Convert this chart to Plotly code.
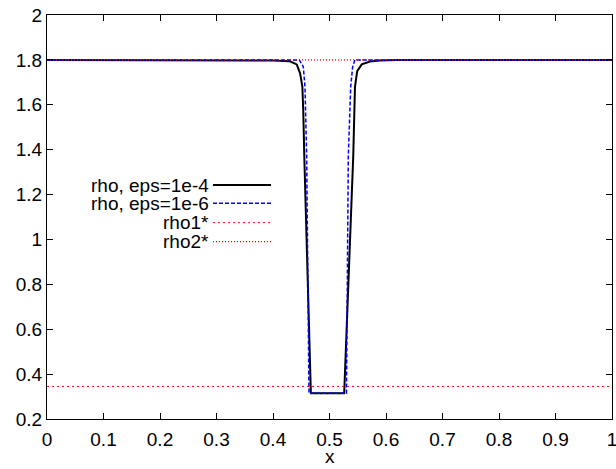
import plotly.graph_objects as go

# eps = 1e-4 profile (black solid)
x_e4 = [0.0, 0.30, 0.35, 0.38, 0.40, 0.43, 0.442, 0.448, 0.452, 0.4536, 0.4554, 0.467,
        0.526, 0.542, 0.5434, 0.5451, 0.549, 0.557, 0.5717, 0.589, 0.62, 0.66, 1.0]
y_e4 = [1.8, 1.8, 1.799, 1.798, 1.797, 1.794, 1.78, 1.74, 1.68, 1.57, 1.37, 0.315,
        0.315, 1.37, 1.57, 1.68, 1.75, 1.78, 1.793, 1.797, 1.799, 1.8, 1.8]

# eps = 1e-6 profile (blue dashed)
x_e6 = [0.0, 0.4466, 0.4536, 0.4566, 0.4596, 0.4637, 0.530, 0.5333, 0.5375, 0.541, 0.545, 1.0]
y_e6 = [1.8, 1.8, 1.77, 1.68, 1.37, 0.315, 0.315, 1.37, 1.68, 1.77, 1.8, 1.8]

# reference densities
x_ref = [0.0, 1.0]
rho1_star = [0.345, 0.345]
rho2_star = [1.8, 1.8]

x_ticks = [0, 0.1, 0.2, 0.3, 0.4, 0.5, 0.6, 0.7, 0.8, 0.9, 1]
x_ticktext = ["0", "0.1", "0.2", "0.3", "0.4", "0.5", "0.6", "0.7", "0.8", "0.9", "1"]
y_ticks = [0.2, 0.4, 0.6, 0.8, 1, 1.2, 1.4, 1.6, 1.8, 2]
y_ticktext = ["0.2", "0.4", "0.6", "0.8", "1", "1.2", "1.4", "1.6", "1.8", "2"]

legend_labels = ["rho, eps=1e-4", "rho, eps=1e-6", "rho1*", "rho2*"]
legend_styles = [("black", "solid", 2), ("#0000ff", "4px,2px", 1.5),
                 ("#ff0000", "2px,3px", 1), ("#ff0000", "1px,2px", 1.3)]

FONT = "Liberation Sans, Arial, sans-serif"
FS = 19

fig = go.Figure()
fig.add_trace(go.Scatter(x=x_e4, y=y_e4, mode="lines", name=legend_labels[0],
                         line=dict(color="black", width=2)))
fig.add_trace(go.Scatter(x=x_e6, y=y_e6, mode="lines", name=legend_labels[1],
                         line=dict(color="#0000ff", width=1.5, dash="4px,2px")))
fig.add_trace(go.Scatter(x=x_ref, y=rho1_star, mode="lines", name=legend_labels[2],
                         line=dict(color="#ff0000", width=1, dash="2px,3px")))
fig.add_trace(go.Scatter(x=x_ref, y=rho2_star, mode="lines", name=legend_labels[3],
                         line=dict(color="#ff0000", width=1.3, dash="1px,2px")))

# gnuplot-style key: right-aligned text with line sample to the right
row_y = [0.579, 0.534, 0.486, 0.439]
for lab, (c, d, w), yy in zip(legend_labels, legend_styles, row_y):
    fig.add_annotation(x=0.2885, y=yy, xref="paper", yref="paper", text=lab,
                       showarrow=False, xanchor="right", yanchor="middle",
                       borderpad=0, font=dict(family=FONT, size=FS, color="black"))
    fig.add_shape(type="line", xref="paper", yref="paper", x0=0.2938, x1=0.3965,
                  y0=yy, y1=yy, line=dict(color=c, width=w, dash=d))

# axis title
fig.add_annotation(x=0.5, y=-0.0916, xref="paper", yref="paper", text="x",
                   showarrow=False, xanchor="center", yanchor="middle",
                   borderpad=0, font=dict(family=FONT, size=FS, color="black"))

axis_common = dict(showgrid=False, zeroline=False, showline=True, linecolor="black",
                   linewidth=1, mirror="ticks", ticks="inside", ticklen=6,
                   tickcolor="black", tickwidth=1, automargin=False,
                   ticklabeloverflow="allow",
                   tickfont=dict(family=FONT, size=FS, color="black"))

fig.update_layout(
    width=616, height=469,
    margin=dict(l=47, r=4, t=15, b=50),
    paper_bgcolor="white", plot_bgcolor="white",
    showlegend=False,
    xaxis=dict(range=[0, 1], tickmode="array", tickvals=x_ticks, ticktext=x_ticktext,
               ticklabelstandoff=3, **axis_common),
    yaxis=dict(range=[0.2, 2], tickmode="array", tickvals=y_ticks, ticktext=y_ticktext,
               **axis_common),
)

fig.write_html("out.html", config={"displayModeBar": False},
               post_script="document.body.style.margin='0px';document.body.style.overflow='hidden';")
